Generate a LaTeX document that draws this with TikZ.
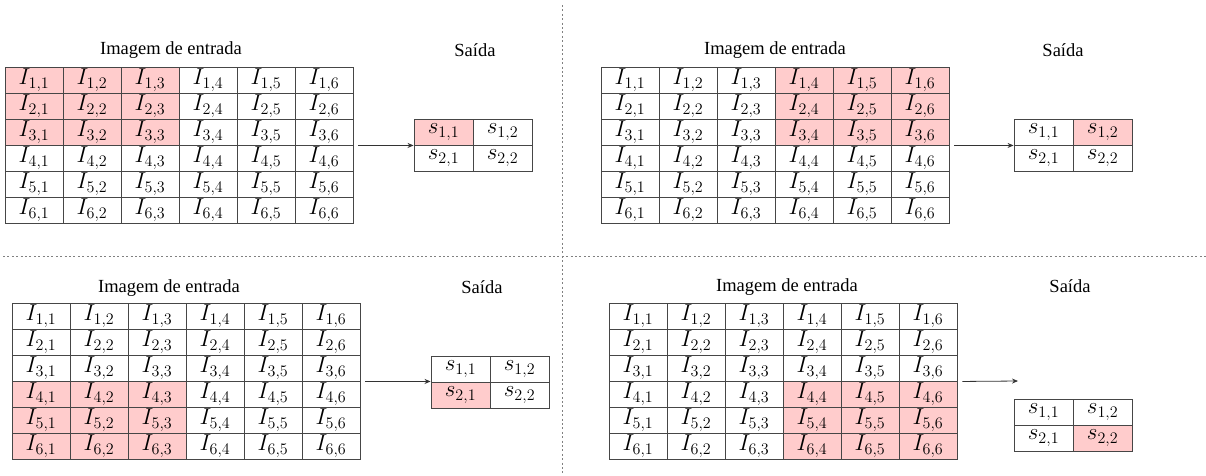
\documentclass[tikz,border=0pt]{standalone}
\usepackage{fix-cm}
\usepackage{fontspec}
\newfontfamily\titlefont{Liberation Serif}
\usetikzlibrary{arrows.meta}

\definecolor{cellred}{RGB}{255,204,204}
\definecolor{gridline}{RGB}{70,70,70}

\tikzset{
  cell/.style={draw=gridline, line width=0.9pt, rectangle, minimum width=58pt,
    minimum height=26pt, inner sep=0pt, font=\fontsize{23}{25}\selectfont},
  outcell/.style={cell, minimum width=59pt},
  title/.style={font=\titlefont\fontsize{18.5}{21}\selectfont, inner sep=0pt},
  flow/.style={-{Stealth[length=6pt,width=5pt]}, line width=0.8pt, draw=black!80},
  divider/.style={draw=gray, line width=1pt, dash pattern=on 2pt off 2.4pt},
}

% 6x6 input matrix: name, left, top, first highlighted row, first highlighted column
\newcommand\inputgrid[5]{%
  \foreach \r in {1,...,6}{
    \foreach \c in {1,...,6}{
      \pgfmathtruncatemacro\hl{(\r>=#4)*(\r<=#4+2)*(\c>=#5)*(\c<=#5+2)}
      \ifnum\hl=1 \def\cellfill{cellred}\else\def\cellfill{white}\fi
      \node[cell, fill=\cellfill] (#1-\r-\c) at ({#2+(\c-0.5)*58},{#3+(\r-0.5)*26}) {$I_{\r,\c}$};
    }
  }
}

% 2x2 output matrix: name, left, top, highlighted row, highlighted column
\newcommand\outputgrid[5]{%
  \foreach \r in {1,2}{
    \foreach \c in {1,2}{
      \pgfmathtruncatemacro\hl{(\r==#4)*(\c==#5)}
      \ifnum\hl=1 \def\cellfill{cellred}\else\def\cellfill{white}\fi
      \node[outcell, fill=\cellfill] (#1-\r-\c) at ({#2+(\c-0.5)*59},{#3+(\r-0.5)*26}) {$s_{\r,\c}$};
    }
  }
}

\begin{document}
\begin{tikzpicture}[x=1pt, y=-1pt]
  \useasboundingbox (0,0) rectangle (1206,475);

  % quadrant separators
  \draw[divider] (562,5) -- (562,475);
  \draw[divider] (3,256) -- (1206,256);

  % top left: window at rows 1-3, columns 1-3
  \inputgrid{a}{5}{67}{1}{1}
  \outputgrid{as}{414}{119}{1}{1}
  \node[title] (a-title) at (171,50) {Imagem de entrada};
  \node[title] (as-title) at (475,50) {Saída};
  \coordinate (a-from) at ([xshift=5pt]a-3-6.south east);
  \draw[flow] (a-from) -- (a-from -| as-1-1.west);

  % top right: window at rows 1-3, columns 4-6
  \inputgrid{b}{601}{67}{1}{4}
  \outputgrid{bs}{1014}{119}{1}{2}
  \node[title] (b-title) at (775,50) {Imagem de entrada};
  \node[title] (bs-title) at (1063,50) {Saída};
  \coordinate (b-from) at ([xshift=5pt]b-3-6.south east);
  \draw[flow] (b-from) -- (b-from -| bs-1-1.west);

  % bottom left: window at rows 4-6, columns 1-3
  \inputgrid{c}{12}{303}{4}{1}
  \outputgrid{cs}{431}{356}{2}{1}
  \node[title] (c-title) at (169,288) {Imagem de entrada};
  \node[title] (cs-title) at (482,287) {Saída};
  \coordinate (c-from) at ([xshift=5pt]c-3-6.south east);
  \draw[flow] (c-from) -- (c-from -| cs-1-1.west);

  % bottom right: window at rows 4-6, columns 4-6
  \inputgrid{d}{609}{303}{4}{4}
  \outputgrid{ds}{1014}{399}{2}{2}
  \node[title] (d-title) at (787,287) {Imagem de entrada};
  \node[title] (ds-title) at (1070,286) {Saída};
  \coordinate (d-from) at ([xshift=5pt]d-3-6.south east);
  \coordinate (d-to) at (1018,381);
  \draw[flow] (d-from) -- (d-to);
\end{tikzpicture}
\end{document}
